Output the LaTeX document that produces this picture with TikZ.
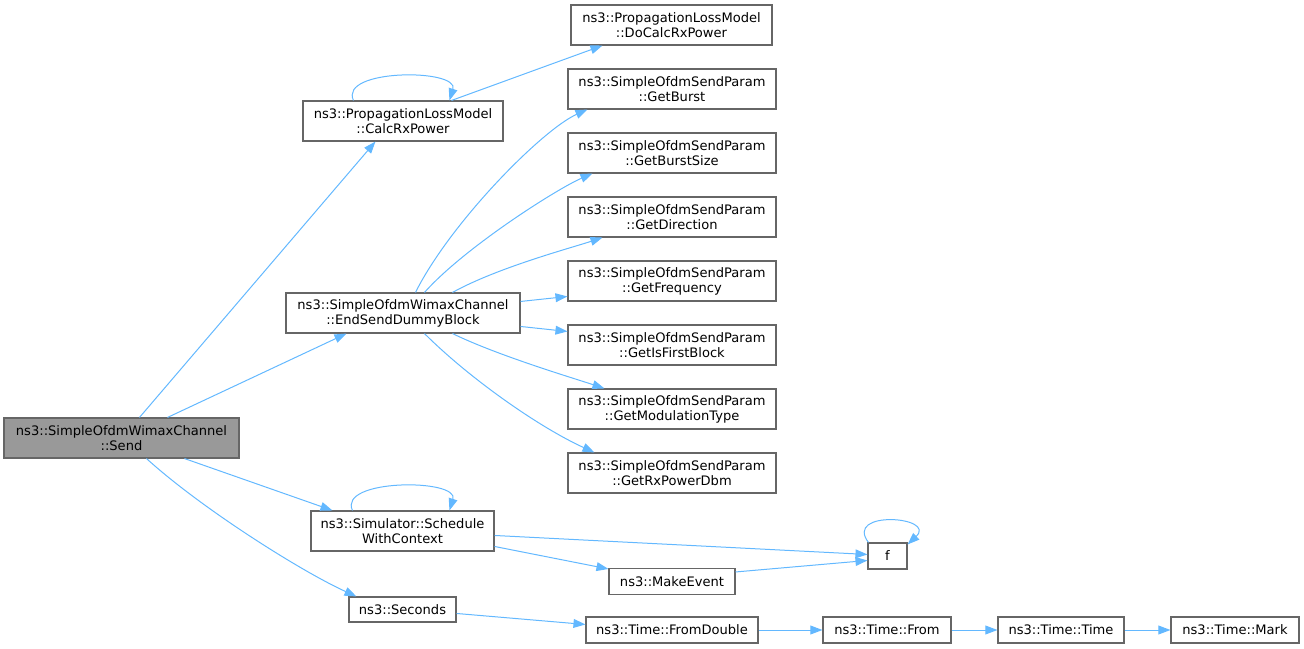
\documentclass[tikz,border=0pt]{standalone}
\usepackage{fontspec}
\setmainfont{DejaVu Sans}
\usetikzlibrary{arrows.meta,calc}
\definecolor{edgec}{HTML}{63B8FF}
\definecolor{bordc}{HTML}{666666}
\definecolor{sendfill}{HTML}{999999}
\begin{document}
\begin{tikzpicture}[x=0.75pt,y=-0.75pt,
  box/.style={draw=bordc, line width=0.8pt, fill=white, align=center, inner sep=0pt,
    font=\fontsize{9.8pt}{11.25pt}\selectfont, text=black},
  wh/.style 2 args={minimum width=#1*0.75pt, minimum height=#2*0.75pt},
  edg/.style={draw=edgec, line width=0.75pt, -{Triangle[length=9pt,width=6.6pt,fill=edgec]}}]
\useasboundingbox (0,0) rectangle (1304,649);
% nodes
\node[box, wh={235}{40}, fill=sendfill] (send) at (121.5,438) {ns3::SimpleOfdmWimaxChannel\\::Send};
\node[box, wh={200}{40}] (calc) at (403,121) {ns3::PropagationLossModel\\::CalcRxPower};
\node[box, wh={234}{40}] (esdb) at (403,313) {ns3::SimpleOfdmWimaxChannel\\::EndSendDummyBlock};
\node[box, wh={201}{40}] (docalc) at (671.5,25) {ns3::PropagationLossModel\\::DoCalcRxPower};
\node[box, wh={208}{40}] (gb) at (672,89) {ns3::SimpleOfdmSendParam\\::GetBurst};
\node[box, wh={208}{40}] (gbs) at (672,153) {ns3::SimpleOfdmSendParam\\::GetBurstSize};
\node[box, wh={208}{40}] (gd) at (672,217) {ns3::SimpleOfdmSendParam\\::GetDirection};
\node[box, wh={208}{40}] (gf) at (672,281) {ns3::SimpleOfdmSendParam\\::GetFrequency};
\node[box, wh={208}{40}] (gifb) at (672,345) {ns3::SimpleOfdmSendParam\\::GetIsFirstBlock};
\node[box, wh={208}{40}] (gmt) at (672,409) {ns3::SimpleOfdmSendParam\\::GetModulationType};
\node[box, wh={208}{40}] (grx) at (672,473) {ns3::SimpleOfdmSendParam\\::GetRxPowerDbm};
\node[box, wh={183}{40}] (swc) at (402.5,531) {ns3::Simulator::Schedule\\WithContext};
\node[box, wh={126}{26}] (me) at (672,581.5) {ns3::MakeEvent};
\node[box, wh={39}{26}] (f) at (887.5,556) {f};
\node[box, wh={107}{25}] (sec) at (402.5,609.5) {ns3::Seconds};
\node[box, wh={172}{26}] (fd) at (672,630) {ns3::Time::FromDouble};
\node[box, wh={128}{26}] (from) at (887,630) {ns3::Time::From};
\node[box, wh={126}{26}] (tt) at (1061,630) {ns3::Time::Time};
\node[box, wh={128}{26}] (mark) at (1235,630) {ns3::Time::Mark};
% edges from Send
\draw[edg] ($(send.north west)+(136,0)$) -- ($(calc.south west)+(73,0)$);
\draw[edg] ($(send.north west)+(164,0)$) -- ($(esdb.south west)+(61,0)$);
\draw[edg] ($(send.south west)+(181,0)$) -- ($(swc.north west)+(22,0)$);
\draw[edg] ($(send.south west)+(143,0)$) .. controls +(55,50) and +(-55,-25) .. ($(sec.north west)+(8,0)$);
% CalcRxPower
\draw[edg] ($(calc.north west)+(51,0)$) .. controls +(-15,-32) and +(10,-32) .. ($(calc.north west)+(147,0)$);
\draw[edg] ($(calc.north west)+(149,0)$) -- ($(docalc.south west)+(32,0)$);
% EndSendDummyBlock
\draw[edg] ($(esdb.north west)+(130,0)$) .. controls +(35,-70) and +(-45,20) .. ($(gb.south west)+(20,0)$);
\draw[edg] ($(esdb.north west)+(139,0)$) .. controls +(40,-45) and +(-35,15) .. ($(gbs.south west)+(25,0)$);
\draw[edg] ($(esdb.north west)+(167,0)$) .. controls +(45,-25) and +(-30,10) .. ($(gd.south west)+(35,0)$);
\draw[edg] ($(esdb.north east)+(0,9)$) -- ($(gf.north west)+(0,36)$);
\draw[edg] ($(esdb.north east)+(0,34)$) -- ($(gifb.north west)+(0,7)$);
\draw[edg] ($(esdb.south west)+(167,0)$) .. controls +(45,22) and +(-30,-10) .. ($(gmt.north west)+(37,0)$);
\draw[edg] ($(esdb.south west)+(139,0)$) .. controls +(45,45) and +(-55,-25) .. ($(grx.north west)+(27,0)$);
% ScheduleWithContext
\draw[edg] ($(swc.north west)+(42,0)$) .. controls +(-15,-32) and +(10,-32) .. ($(swc.north west)+(139,0)$);
\draw[edg] ($(swc.north east)+(0,25)$) -- ($(f.north west)+(0,12)$);
\draw[edg] ($(swc.north east)+(0,36)$) -- ($(me.north west)+(0,1)$);
\draw[edg] ($(me.north east)+(0,4)$) -- ($(f.north west)+(0,18)$);
\draw[edg] ($(f.north west)+(1,0)$) .. controls +(-25,-33) and +(30,-28) .. ($(f.north east)+(0,2)$);
% Seconds chain
\draw[edg] ($(sec.north east)+(0,17)$) -- ($(fd.north west)+(0,8)$);
\draw[edg] (fd.east) -- (from.west);
\draw[edg] (from.east) -- (tt.west);
\draw[edg] (tt.east) -- (mark.west);
\end{tikzpicture}
\end{document}
